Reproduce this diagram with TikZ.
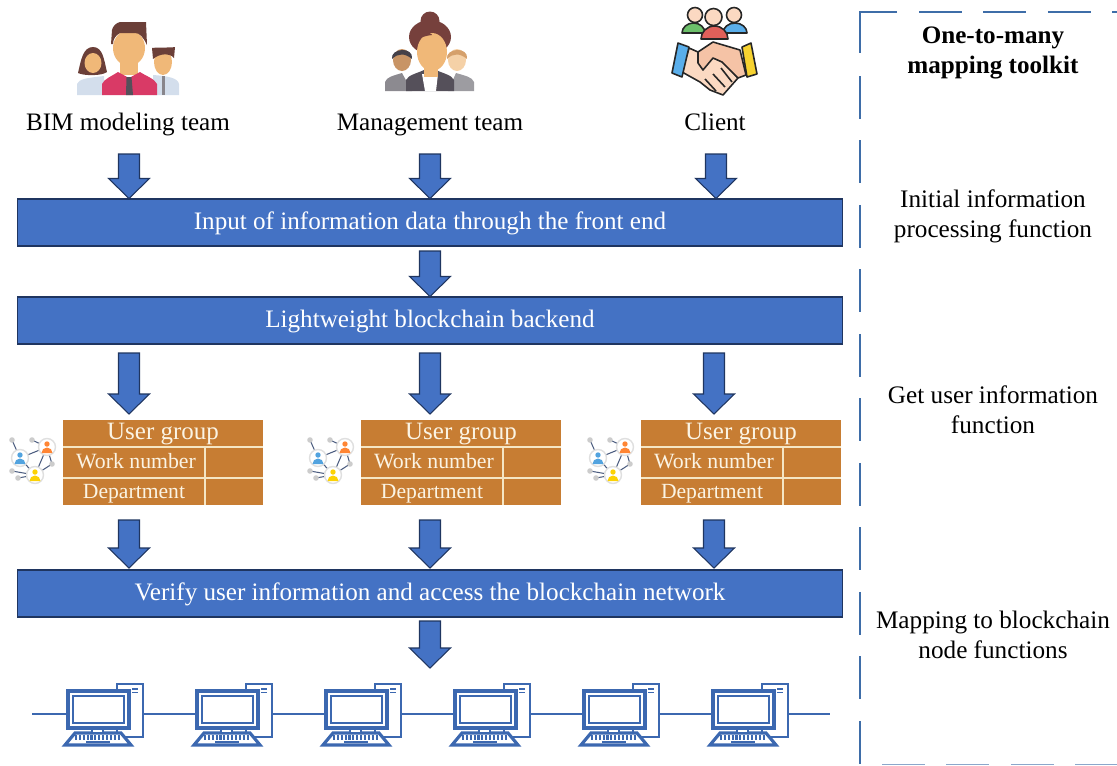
\documentclass[tikz,border=0pt]{standalone}
\usepackage{fontspec}
\setmainfont{Liberation Serif}
\usetikzlibrary{calc}

\definecolor{barblue}{HTML}{4472C4}
\definecolor{barline}{HTML}{1F3560}
\definecolor{pcblue}{HTML}{3C68B0}
\definecolor{panelblue}{HTML}{3E6DA8}
\definecolor{tableorange}{HTML}{C77D33}
\definecolor{tableline}{HTML}{F5E6C4}
\definecolor{celltext}{HTML}{FBF4E4}
\definecolor{skin}{HTML}{F0B878}
\definecolor{hairbrown}{HTML}{6B3F38}
\definecolor{bunbrown}{HTML}{76403C}
\definecolor{shirtred}{HTML}{D93A66}
\definecolor{shirtpale}{HTML}{D3DEEC}
\definecolor{suitgrey}{HTML}{55505A}
\definecolor{midgrey}{HTML}{8C8A90}
\definecolor{handlight}{HTML}{FBD9C2}
\definecolor{handdark}{HTML}{F5C3A6}
\definecolor{greenbody}{HTML}{6CBF6A}
\definecolor{redbody}{HTML}{E0605A}
\definecolor{bluebody}{HTML}{5AAEEA}
\definecolor{cuffyellow}{HTML}{F6D230}

\tikzset{
  bigtext/.style={font=\fontsize{14.3}{17}\selectfont},
  bar/.style={draw=barline, line width=0.6pt, fill=barblue, text=white, minimum width=16.52cm, minimum height=0.94cm, inner sep=0pt, text height=10.4pt, text depth=2pt, bigtext},
  blockarrow/.style={draw=barline, line width=0.6pt, fill=barblue, to path={
    ($(\tikztostart)+(-10.5,0)$) -- ($(\tikztostart)+(10.5,0)$) -- ($(\tikztotarget)+(10.5,-20)$)
    -- ($(\tikztotarget)+(20.5,-20)$) -- (\tikztotarget) -- ($(\tikztotarget)+(-20.5,-20)$)
    -- ($(\tikztotarget)+(-10.5,-20)$) -- cycle}},
  teamlabel/.style={bigtext, inner sep=0pt, anchor=base},
  funclabel/.style={align=center, inner sep=0pt, font=\fontsize{14.35}{17}\selectfont},
  cell/.style={text=celltext, inner sep=0pt, anchor=base},
  panelline/.style={draw=panelblue, line width=1.1pt, dash pattern=on 24.4pt off 12.3pt},
  pcline/.style={draw=pcblue, line width=0.9pt},
  pcpart/.style={draw=pcblue, line width=1.4pt, fill=white},
  iconline/.style={draw=black!85, line width=0.9pt, line join=round},
}

\begin{document}
\begin{tikzpicture}[x=0.02cm, y=-0.02cm]
\useasboundingbox (0,0) rectangle (1117,765);

% three parties
\node[teamlabel](team1) at (128,130) {BIM modeling team};
\node[teamlabel](team2) at (430,130) {Management team};
\node[teamlabel](team3) at (715,130) {Client};

% BIM team icon
\fill[shirtpale] (77,95) -- (77,84) .. controls (79,79) and (86,78) .. (104,76) -- (104,95) -- cycle;
\fill[shirtpale] (153,95) -- (153,75) .. controls (168,76) and (178,78) .. (179,84) -- (179,95) -- cycle;
\fill[hairbrown] (93,47) .. controls (83,47) and (81,60) .. (78,73) .. controls (84,76) and (102,76) .. (107,72) .. controls (104,60) and (103,47) .. (93,47) -- cycle;
\fill[skin] (93,63) ellipse (8.5 and 10);
\fill[skin] (163,62) ellipse (9 and 13);
\fill[hairbrown] (152,48) .. controls (160,47) and (170,48) .. (175,47) -- (174,58) .. controls (170,53) and (160,53) .. (153,59) -- cycle;
\fill[skin] (120,62) rectangle (138,75);
\fill[shirtred] (102,95) -- (102,84) .. controls (104,79) and (112,76) .. (118,72) -- (129,78) -- (140,72) .. controls (146,76) and (155,79) .. (157,84) -- (157,95) -- cycle;
\fill[skin] (129,48) ellipse (16 and 18);
\fill[hairbrown] (111,44) -- (112,30) .. controls (113,26) and (116,23) .. (120,22) -- (146,22) -- (147,45) .. controls (143,37) and (140,33) .. (135,33) -- (120,33) .. controls (116,35) and (113,39) .. (113,44) -- cycle;
\fill[suitgrey] (126.5,77) -- (131.5,77) -- (133,95) -- (126,95) -- cycle;
\fill[suitgrey!70] (162,76) rectangle (164.5,95);

% management team icon
\fill[midgrey] (385,91) -- (385,82) .. controls (387,77) and (392,76) .. (402,73) -- (412,91) -- cycle;
\fill[midgrey!85] (474,91) -- (474,82) .. controls (472,77) and (466,76) .. (456,73) -- (448,91) -- cycle;
\fill[skin!70!hairbrown] (402,60) ellipse (9 and 11);
\fill[suitgrey!80!black] (392,59) .. controls (390,48) and (414,46) .. (412,59) .. controls (405,53) and (398,53) .. (392,59) -- cycle;
\fill[skin!65!white] (457,60) ellipse (9 and 11);
\fill[skin!80!hairbrown] (447,59) .. controls (445,48) and (469,46) .. (467,59) .. controls (460,53) and (453,53) .. (447,59) -- cycle;
\fill[suitgrey] (406,91) -- (406,80) .. controls (408,75) and (418,73) .. (424,70) -- (436,70) .. controls (442,73) and (452,75) .. (454,80) -- (454,91) -- cycle;
\fill[white] (422,74) -- (438,74) -- (436,91) -- (425,91) -- cycle;
\fill[bunbrown] (430,21) circle (9.5);
\fill[bunbrown] (430,37) ellipse (21 and 17);
\fill[skin] (424,64) rectangle (438,77);
\fill[skin] (432,52) ellipse (15 and 19);
\fill[bunbrown] (413,47) .. controls (416,38) and (424,36) .. (432,35) .. controls (432,32) and (418,30) .. (412,42) -- cycle;

% client icon
\draw[iconline, fill=greenbody] (682,33) arc (180:360:11.5 and 10) -- cycle;
\draw[iconline, fill=bluebody] (723,33) arc (180:360:12 and 10) -- cycle;
\draw[iconline, fill=redbody] (701,39) arc (180:360:13.5 and 13) -- cycle;
\draw[iconline, fill=handlight] (695,15) circle (7.5);
\draw[iconline, fill=handlight] (734,15) circle (7.5);
\draw[iconline, fill=handlight] (713.5,17) circle (8.5);
\draw[iconline, fill=handlight] (689,48) -- (698,52) -- (713,50) -- (738,78) -- (723,95) -- (710,90) -- (700,82) -- (682,72) -- cycle;
\draw[iconline, fill=handdark] (713,42) -- (740,50) -- (746,75) -- (738,78) -- (722,62) -- (713,58) -- (703,70) -- (698,63) -- (698,52) -- cycle;
\draw[iconline] (713,74) -- (725,87) (705,79) -- (716,91) (721,68) -- (732,82);
\draw[iconline, fill=bluebody] (678,43) -- (689,47) -- (682,77) -- (672,73) -- cycle;
\draw[iconline, fill=cuffyellow] (742,47) -- (751,43) -- (757,74) -- (747,77) -- cycle;

% bars
\node[bar](bar1) at (430,222.5) {Input of information data through the front end};
\node[bar](bar2) at (430,320.5) {Lightweight blockchain backend};
\node[bar](bar3) at (430,593.5) {Verify user information and access the blockchain network};

% user group tables
\foreach \n/\tx in {1/63, 2/361, 3/641}{
  \begin{scope}[shift={(\tx,420)}]
    \node[fill=tableorange, minimum width=4cm, minimum height=1.7cm, inner sep=0pt](group\n) at (100,42.5) {};
    \draw[tableline, line width=0.7pt] (0,27) -- (200,27) (0,58) -- (200,58) (142,27) -- (142,85);
    \node[cell, font=\fontsize{14.2}{16}\selectfont](usr\n) at (100,19.5) {User group};
    \node[cell, font=\fontsize{12.4}{14}\selectfont](num\n) at (73,48) {Work number};
    \node[cell, font=\fontsize{12.3}{14}\selectfont](dep\n) at (71,78) {Department};
    % little network beside the table
    \begin{scope}[shift={(-63,-420)}]
      \draw[barline!80, line width=0.6pt] (12,440) -- (20,458) -- (47,447) -- (35,475) -- (18,478) (32,440) -- (47,447) -- (52,464) (20,458) -- (35,475) -- (12,471) (35,475) -- (52,464);
      \fill[gray!40] (12,440) circle (2.8) (32,440) circle (2.8) (52,464) circle (2.8) (12,471) circle (2.8) (18,478) circle (2.8);
      \draw[gray!25, line width=0.8pt, fill=white] (20,458) circle (8.5) (47,447) circle (8.5) (35,475) circle (8.5);
      \fill[cyan!70!blue!70] (20,455) circle (2.7) (14.5,464) arc (180:360:5.5 and 5.5) -- cycle;
      \fill[orange!80!red!80] (47,444) circle (2.7) (41.5,453) arc (180:360:5.5 and 5.5) -- cycle;
      \fill[yellow!70!orange] (35,472) circle (2.7) (29.5,481) arc (180:360:5.5 and 5.5) -- cycle;
    \end{scope}
  \end{scope}
}

% block arrows
\foreach \n/\ax in {1/129, 2/430, 3/716}{
  \coordinate (top\n) at (\ax,154);
  \draw[blockarrow] (top\n) to (top\n |- bar1.north);
}
\coordinate (mid1) at (430,251);
\draw[blockarrow] (mid1) to (mid1 |- bar2.north);
\foreach \n/\ax in {1/129, 2/430, 3/714}{
  \coordinate (gs\n) at (\ax,353);
  \coordinate (ge\n) at (\ax,414);
  \draw[blockarrow] (gs\n) to (ge\n);
  \coordinate (vs\n) at (\ax,520);
  \coordinate (ve\n) at (\ax,568);
  \draw[blockarrow] (vs\n) to (ve\n);
}
\coordinate (net1) at (430,621);
\coordinate (net2) at (430,668);
\draw[blockarrow] (net1) to (net2);

% network of computers
\coordinate (wire1) at (32,714);
\coordinate (wire2) at (830,714);
\foreach \n/\px in {1/0, 2/129, 3/258, 4/387, 5/516, 6/645}{
  \begin{scope}[xshift=\px*0.02cm]
    \node[minimum width=1.5cm, minimum height=0.4cm, inner sep=0pt](pc\n) at (105.5,714) {};
    \draw[pcpart] (117,684) rectangle (143,737);
    \draw[pcblue, line width=1pt] (132,689) -- (138,689) (132,692.5) -- (138,692.5);
    \draw[pcpart, line width=1.8pt] (65,745) -- (75,733) -- (121,733) -- (131,745) -- cycle;
    \draw[pcblue, line width=2.6pt, dash pattern=on 1.2pt off 1pt] (75,737.5) -- (121,737.5);
    \draw[pcblue, line width=1.2pt] (86,742) -- (110,742);
    \draw[pcpart] (92,728) rectangle (103,733);
    \draw[pcpart, line width=1.8pt] (68,691) rectangle (129,728);
    \draw[pcblue, line width=1.1pt] (73,696) rectangle (124,723);
  \end{scope}
}
\draw[pcline] (wire1) -- (pc1.west);
\draw[pcline] (pc1.east) -- (pc2.west);
\draw[pcline] (pc2.east) -- (pc3.west);
\draw[pcline] (pc3.east) -- (pc4.west);
\draw[pcline] (pc4.east) -- (pc5.west);
\draw[pcline] (pc5.east) -- (pc6.west);
\draw[pcline] (pc6.east) -- (wire2);

% toolkit panel
\draw[draw=panelblue, line width=1.1pt] (897,12) -- (860,12) -- (860,53);
\draw[panelline] (860,76) -- (860,765);
\draw[panelline] (919,12) -- (1117,12);
\draw[panelline, panelblue!60] (882,764.5) -- (1117,764.5);

\node[funclabel, font=\fontsize{14.3}{17}\selectfont\bfseries](tool) at (993,53) {One-to-many\\mapping toolkit};
\node[funclabel](func1) at (993,216) {Initial information\\processing function};
\node[funclabel](func2) at (993,410) {Get user information\\function};
\node[funclabel](func3) at (993,635) {Mapping to blockchain\\node functions};

\end{tikzpicture}
\end{document}
